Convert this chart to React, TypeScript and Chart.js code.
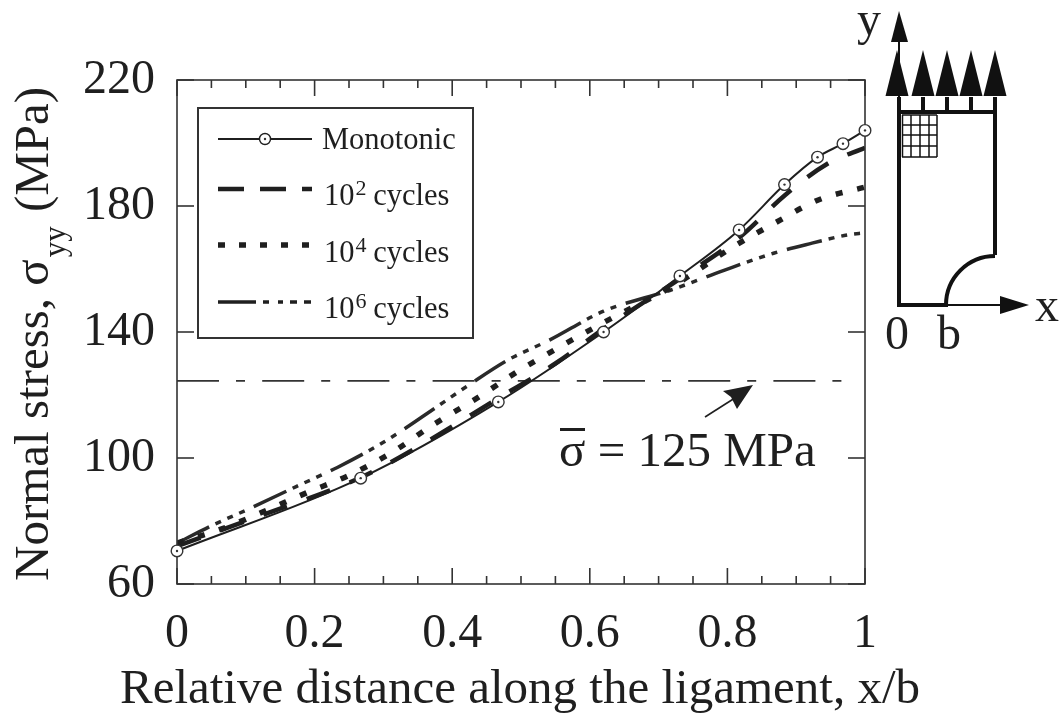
import React, { useEffect, useRef } from "react";
import { Chart, registerables } from "chart.js";

Chart.register(...registerables);

const SERIF = '"Liberation Serif", serif';
const INK = "#1f1f1f";

const monotonicX = [0, 0.267, 0.467, 0.62, 0.731, 0.817, 0.883, 0.931, 0.968, 1];
const monotonicY = [70.5, 93.6, 117.8, 140, 157.8, 172.4, 186.8, 195.5, 199.8, 204];
const cycles2X = [0, 0.1, 0.267, 0.35, 0.467, 0.55, 0.62, 0.735, 0.82, 0.884, 0.946, 1];
const cycles2Y = [72, 80, 93.8, 103.5, 119, 130, 141, 157.5, 170.5, 183.5, 193.5, 198.5];
const cycles4X = [0, 0.065, 0.126, 0.189, 0.251, 0.314, 0.372, 0.436, 0.496, 0.53, 0.62, 0.724, 0.808, 0.869, 0.933, 1];
const cycles4Y = [73, 77.5, 83, 89, 94.6, 102, 110.5, 119, 127.6, 132, 143, 155, 167, 174.6, 182, 186];
const cycles6X = [0, 0.05, 0.106, 0.174, 0.233, 0.3, 0.356, 0.423, 0.48, 0.542, 0.62, 0.72, 0.794, 0.867, 0.923, 0.974, 1];
const cycles6Y = [73, 78.5, 84, 91, 97, 105, 113, 123, 131, 137.5, 146.6, 153.5, 159.5, 165, 168.2, 170.8, 171.5];
const meanX = [0, 0.971];
const meanY = [124.5, 124.5];

const xMajor = [0, 0.2, 0.4, 0.6, 0.8, 1];
const xMinor = [0.05, 0.1, 0.15, 0.25, 0.3, 0.35, 0.45, 0.5, 0.55, 0.65, 0.7, 0.75, 0.85, 0.9, 0.95];
const yMajor = [60, 100, 140, 180, 220];

const legendLabels = ["Monotonic", "10|2| cycles", "10|4| cycles", "10|6| cycles"];
const xTitle = "Relative distance along the ligament, x/b";
const meanLabel = "\u03C3 = 125 MPa";

const dash2 = [25, 21];
const dash4 = [7, 15];
const dash6 = [36, 7, 6, 7, 6, 7, 6, 10];
const dashMean = [42, 17, 9, 17.2];

const zip = (xs: number[], ys: number[]) => xs.map((x, i) => ({ x, y: ys[i] }));

const decor = {
  id: "decor",
  afterDatasetsDraw(chart: any) {
    const { ctx, chartArea: a, scales } = chart;
    const X = scales.x, Y = scales.y;
    ctx.save();
    ctx.strokeStyle = "#333";
    ctx.lineWidth = 1.6;
    ctx.strokeRect(a.left, a.top, a.right - a.left, a.bottom - a.top);
    const seg = (x1: number, y1: number, x2: number, y2: number) => {
      ctx.beginPath(); ctx.moveTo(x1, y1); ctx.lineTo(x2, y2); ctx.stroke();
    };
    xMajor.forEach((v) => {
      const p = X.getPixelForValue(v);
      seg(p, a.bottom, p, a.bottom - 16);
      seg(p, a.top, p, a.top + 16);
    });
    xMinor.forEach((v) => {
      const p = X.getPixelForValue(v);
      seg(p, a.bottom, p, a.bottom - 8);
      seg(p, a.top, p, a.top + 8);
    });
    yMajor.forEach((v) => {
      const p = Y.getPixelForValue(v);
      seg(a.left, p, a.left + 17, p);
      seg(a.right, p, a.right - 17, p);
    });

    // hollow markers sit over the frame, with centre dots
    const meta = chart.getDatasetMeta(0);
    meta.data.forEach((pt: any) => {
      ctx.fillStyle = "#fff";
      ctx.strokeStyle = "#333";
      ctx.lineWidth = 1.4;
      ctx.beginPath(); ctx.arc(pt.x, pt.y, 5.8, 0, Math.PI * 2); ctx.fill(); ctx.stroke();
      ctx.fillStyle = "#333";
      ctx.beginPath(); ctx.arc(pt.x, pt.y, 1.2, 0, Math.PI * 2); ctx.fill();
    });

    // legend
    ctx.fillStyle = "#fff";
    ctx.fillRect(198, 108, 275, 230);
    ctx.strokeStyle = "#333";
    ctx.lineWidth = 2;
    ctx.strokeRect(198, 108, 275, 230);
    const rows = [139, 189, 245, 302];
    const bases = [149, 205, 262, 318];
    const styles = [
      { w: 1.8, d: [] as number[] },
      { w: 4.5, d: [26, 16] },
      { w: 5.5, d: [7, 14] },
      { w: 3.5, d: [38, 7, 6, 9, 5, 7, 7, 7, 7, 9] },
    ];
    rows.forEach((ry, i) => {
      ctx.strokeStyle = INK;
      ctx.lineWidth = styles[i].w;
      ctx.setLineDash(styles[i].d);
      seg(218, ry, 312, ry);
      ctx.setLineDash([]);
      if (i === 0) {
        ctx.lineWidth = 1.4;
        ctx.fillStyle = "#fff";
        ctx.beginPath(); ctx.arc(265, ry, 5.5, 0, Math.PI * 2); ctx.fill(); ctx.stroke();
        ctx.fillStyle = "#333";
        ctx.beginPath(); ctx.arc(265, ry, 1.2, 0, Math.PI * 2); ctx.fill();
      }
      ctx.fillStyle = INK;
      ctx.textAlign = "left";
      ctx.textBaseline = "alphabetic";
      const parts = legendLabels[i].split("|");
      const base = bases[i];
      let tx = i === 0 ? 322 : 324;
      ctx.font = `30.5px ${SERIF}`;
      ctx.fillText(parts[0], tx, base);
      tx += ctx.measureText(parts[0]).width;
      if (parts.length > 1) {
        ctx.font = `22px ${SERIF}`;
        ctx.fillText(parts[1], tx + 1, base - 10);
        tx += ctx.measureText(parts[1]).width;
        ctx.font = `30.5px ${SERIF}`;
        ctx.fillText(parts[2], tx, base);
      }
    });

    // x title
    ctx.fillStyle = INK;
    ctx.textAlign = "center";
    ctx.textBaseline = "alphabetic";
    ctx.font = `49px ${SERIF}`;
    ctx.fillText(xTitle, 520, 703);

    // y title with subscript
    ctx.save();
    ctx.translate(47.5, 581);
    ctx.rotate(-Math.PI / 2);
    ctx.fillStyle = INK;
    ctx.textAlign = "left";
    const big = `49px ${SERIF}`;
    const small = `31px ${SERIF}`;
    const runs: [string, string, number, number][] = [
      ["Normal stress, \u03C3", big, 0, 0],
      ["yy", small, 17, 2],
      [" (MPa)", big, 0, 2],
    ];
    let rx = 0;
    runs.forEach(([t, f, dy, gap]) => {
      ctx.font = f;
      rx += gap;
      ctx.fillText(t, rx, dy);
      rx += ctx.measureText(t).width;
    });
    ctx.restore();

    // mean stress annotation
    ctx.fillStyle = INK;
    ctx.font = `49px ${SERIF}`;
    ctx.textAlign = "left";
    ctx.fillText(meanLabel, 559, 466);
    ctx.fillRect(560, 428, 25, 3);
    ctx.strokeStyle = INK;
    ctx.lineWidth = 1.6;
    seg(705, 417, 738, 396);
    ctx.beginPath();
    ctx.moveTo(753, 385); ctx.lineTo(723, 391); ctx.lineTo(731, 397); ctx.lineTo(737, 409); ctx.closePath();
    ctx.fill();

    // specimen sketch
    ctx.strokeStyle = "#111";
    ctx.fillStyle = "#111";
    ctx.lineWidth = 4;
    seg(899, 97, 899, 307);
    seg(995, 97, 995, 255);
    seg(897, 112, 997, 112);
    [923, 947, 971].forEach((sx) => seg(sx, 97, sx, 112));
    [897, 923, 947, 971, 995].forEach((cx) => {
      ctx.beginPath();
      ctx.moveTo(cx - 11.5, 96); ctx.lineTo(cx, 50); ctx.lineTo(cx + 11.5, 96); ctx.closePath();
      ctx.fill();
    });
    ctx.lineWidth = 2;
    seg(899, 97, 899, 40);
    ctx.beginPath();
    ctx.moveTo(891, 42); ctx.lineTo(899, 11); ctx.lineTo(908, 42); ctx.closePath();
    ctx.fill();
    ctx.lineWidth = 1.5;
    [902.5, 911, 920, 929, 937].forEach((gx) => seg(gx, 115, gx, 157));
    [115, 125, 135, 146, 157].forEach((gy) => seg(902, gy, 937, gy));
    ctx.lineWidth = 4;
    seg(897, 305, 948, 305);
    ctx.beginPath();
    ctx.arc(995, 305, 49, Math.PI, Math.PI * 1.5);
    ctx.stroke();
    ctx.lineWidth = 2;
    seg(947, 305, 1002, 305);
    ctx.beginPath();
    ctx.moveTo(1000, 296); ctx.lineTo(1029, 305); ctx.lineTo(1000, 314); ctx.closePath();
    ctx.fill();
    ctx.fillStyle = INK;
    ctx.font = `48px ${SERIF}`;
    ctx.fillText("y", 857, 35);
    ctx.fillText("x", 1035, 321);
    ctx.fillText("0", 885, 349);
    ctx.fillText("b", 937, 349);
    ctx.restore();
  },
};

export default function App() {
  const ref = useRef<HTMLCanvasElement>(null);
  useEffect(() => {
    document.body.style.margin = "0";
    document.body.style.background = "#fff";
    const chart = new Chart(ref.current!, {
      type: "scatter",
      data: {
        datasets: [
          {
            label: "Monotonic", data: zip(monotonicX, monotonicY), showLine: true,
            borderColor: INK, borderWidth: 2, cubicInterpolationMode: "monotone",
            pointRadius: 0,
          },
          {
            label: "10^2 cycles", data: zip(cycles2X, cycles2Y), showLine: true,
            borderColor: INK, borderWidth: 4.5, borderDash: dash2, cubicInterpolationMode: "monotone", pointRadius: 0,
          },
          {
            label: "10^4 cycles", data: zip(cycles4X, cycles4Y), showLine: true,
            borderColor: INK, borderWidth: 5.5, borderDash: dash4, cubicInterpolationMode: "monotone", pointRadius: 0,
          },
          {
            label: "10^6 cycles", data: zip(cycles6X, cycles6Y), showLine: true,
            borderColor: "#2a2a2a", borderWidth: 3.5, borderDash: dash6, cubicInterpolationMode: "monotone", pointRadius: 0,
          },
          {
            label: "mean stress", data: zip(meanX, meanY), showLine: true,
            borderColor: "#333", borderWidth: 1.6, borderDash: dashMean, pointRadius: 0,
          },
        ],
      } as any,
      options: {
        animation: false,
        responsive: false,
        layout: { padding: { top: 80, right: 199, left: 0, bottom: 0 } },
        plugins: { legend: { display: false }, tooltip: { enabled: false } },
        scales: {
          x: {
            type: "linear", min: 0, max: 1,
            afterBuildTicks: (s: any) => { s.ticks = xMajor.map((value) => ({ value })); },
            afterFit: (s: any) => { s.height = 137; },
            grid: { display: false },
            border: { display: false },
            ticks: {
              autoRotation: 0, maxRotation: 0, padding: 14, color: INK,
              font: { family: SERIF, size: 48 },
              callback: (v: any) => String(v),
            },
          },
          y: {
            type: "linear", min: 60, max: 220,
            afterBuildTicks: (s: any) => { s.ticks = yMajor.map((value) => ({ value })); },
            afterFit: (s: any) => { s.width = 177; },
            grid: { display: false },
            border: { display: false },
            ticks: {
              padding: 14, color: INK,
              font: { family: SERIF, size: 48 },
            },
          },
        },
      } as any,
      plugins: [decor],
    });
    return () => chart.destroy();
  }, []);
  return (
    <canvas
      ref={ref}
      width={1064}
      height={721}
      style={{ position: "absolute", left: 0, top: 0, display: "block" }}
    />
  );
}
